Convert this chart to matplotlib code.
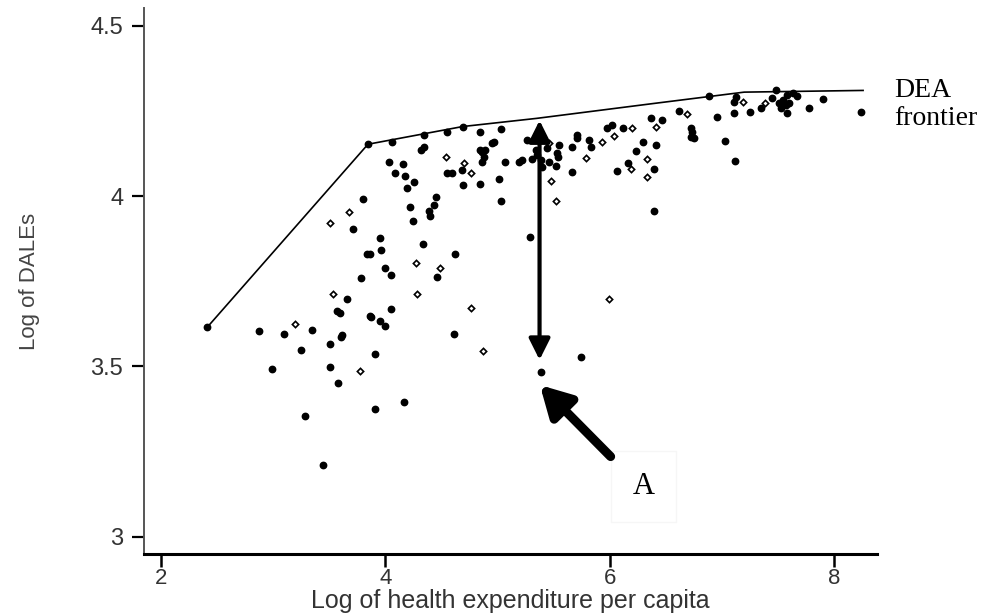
import matplotlib
matplotlib.use("Agg")
import matplotlib.pyplot as plt

# DEA frontier vertices
frontier_x = [2.41, 3.845, 4.69, 5.35, 6.40, 7.20, 8.26]
frontier_y = [3.614, 4.152, 4.204, 4.228, 4.272, 4.305, 4.310]

# countries drawn as filled dots
solid_x = [2.41, 3.845, 4.060, 4.342, 4.551, 4.694,
           4.030, 4.158, 4.089, 4.179, 4.253, 4.194, 4.319, 4.342, 4.551, 4.595,
           4.685, 4.694, 3.801, 3.711, 4.217, 4.247, 4.455, 4.431, 4.387, 4.402,
           3.955, 3.961, 3.836, 3.860, 4.336, 4.619, 4.000, 4.051, 3.783, 4.461,
           3.658, 3.569, 3.593, 4.051, 3.860, 3.872, 3.955, 3.994, 2.875, 3.098,
           3.345, 3.613, 3.604, 3.509, 3.250, 3.905, 4.610, 2.988, 3.509, 3.574,
           3.905, 4.170, 3.286, 3.444,
           4.842, 5.033, 4.848, 4.866, 4.893, 4.878, 4.860, 4.955, 4.973, 5.071,
           5.190, 5.220, 5.259, 5.310, 5.339, 5.354, 5.384, 5.399, 5.444, 5.548,
           5.533, 5.539, 5.458, 5.518, 4.848, 5.012, 5.033, 5.289, 5.667, 5.705,
           5.705, 5.667, 5.815, 5.830, 5.979, 6.024, 6.119, 6.062, 6.164, 6.238,
           6.301, 6.396, 6.417, 6.366, 6.470, 6.396, 6.619, 6.723, 6.738, 6.723,
           6.753, 6.887, 6.961, 7.027, 7.110, 7.125, 7.110, 7.119, 7.253, 7.348,
           7.452, 7.482, 7.512, 7.542, 7.571, 7.601, 7.527, 7.580, 7.631, 7.670,
           7.580, 7.780, 7.899, 8.241, 5.747, 5.384]
solid_y = [3.614, 4.152, 4.160, 4.179, 4.189, 4.204,
           4.101, 4.094, 4.067, 4.059, 4.042, 4.024, 4.135, 4.145, 4.067, 4.067,
           4.076, 4.032, 3.991, 3.902, 3.967, 3.927, 3.998, 3.974, 3.957, 3.941,
           3.876, 3.842, 3.830, 3.830, 3.858, 3.829, 3.788, 3.768, 3.759, 3.762,
           3.697, 3.663, 3.658, 3.668, 3.648, 3.644, 3.634, 3.617, 3.604, 3.594,
           3.607, 3.592, 3.585, 3.565, 3.548, 3.536, 3.594, 3.493, 3.497, 3.452,
           3.374, 3.395, 3.354, 3.211,
           4.189, 4.197, 4.135, 4.128, 4.135, 4.116, 4.101, 4.155, 4.160, 4.101,
           4.101, 4.106, 4.165, 4.108, 4.135, 4.120, 4.106, 4.086, 4.140, 4.150,
           4.125, 4.116, 4.101, 4.088, 4.035, 4.050, 3.986, 3.881, 4.145, 4.179,
           4.169, 4.071, 4.165, 4.143, 4.199, 4.209, 4.199, 4.074, 4.098, 4.132,
           4.160, 4.079, 4.150, 4.228, 4.223, 3.956, 4.250, 4.199, 4.189, 4.174,
           4.169, 4.294, 4.233, 4.162, 4.277, 4.292, 4.243, 4.103, 4.246, 4.258,
           4.287, 4.311, 4.272, 4.282, 4.267, 4.274, 4.258, 4.297, 4.302, 4.294,
           4.243, 4.258, 4.284, 4.248, 3.527, 3.484]

# countries drawn as small open markers
open_x = [4.699, 4.765, 3.673, 3.503, 4.271, 4.491, 3.533, 4.283, 4.765, 3.196,
          4.872, 3.777, 4.545, 5.458, 5.473, 5.518, 6.039, 6.196, 6.188, 6.336,
          6.330, 6.411, 6.688, 7.185, 7.384, 5.786, 5.935, 5.994]
open_y = [4.096, 4.069, 3.954, 3.922, 3.803, 3.788, 3.712, 3.712, 3.670, 3.624,
          3.545, 3.487, 4.115, 4.155, 4.045, 3.985, 4.176, 4.199, 4.078, 4.110,
          4.057, 4.204, 4.241, 4.277, 4.274, 4.111, 4.158, 3.697]

# gap arrow from country A up to the frontier, and pointer to A
gap_x, gap_top, gap_bottom = 5.375, 4.222, 3.519
pointer_tail = (6.009, 3.235)
pointer_tip = (5.378, 3.445)

plt.rcParams['font.family'] = ['Liberation Sans', 'DejaVu Sans']

fig = plt.figure(figsize=(9.96, 6.14), dpi=100)
ax = fig.add_axes([144 / 996, 60 / 614, 733 / 996, 546 / 614])

ax.plot(frontier_x, frontier_y, color='black', lw=1.2, zorder=2)
ax.plot(solid_x, solid_y, 'o', color='black', ms=4.6, zorder=3)
ax.plot(open_x, open_y, 'D', mfc='white', mec='black', mew=1.2, ms=3.2, zorder=3)

ax.annotate('', xy=(gap_x, gap_bottom), xytext=(gap_x, gap_top),
            arrowprops=dict(arrowstyle='<|-|>,head_length=0.8,head_width=0.4',
                            mutation_scale=16, lw=3, color='black',
                            shrinkA=0, shrinkB=0), zorder=4)
ax.annotate('', xy=pointer_tip, xytext=pointer_tail,
            arrowprops=dict(arrowstyle='-|>,head_length=0.9,head_width=0.5',
                            mutation_scale=20, lw=6.5, color='black',
                            shrinkA=0, shrinkB=0), zorder=4)

ax.text(6.30, 3.147, 'A', family='Liberation Serif', fontsize=22, ha='center', va='center',
        bbox=dict(boxstyle='square,pad=0.7', fc='white', ec='#f6f6f6'))
fig.text(894 / 996, 1 - 78 / 614, 'DEA\nfrontier', family='Liberation Serif', fontsize=20,
         ha='left', va='top', linespacing=1.15)

ax.set_xlim(1.848, 8.384)
ax.set_ylim(2.949, 4.552)
ax.set_xticks([2, 4, 6, 8])
ax.set_yticks([3, 3.5, 4, 4.5])
ax.set_yticklabels(['3', '3.5', '4', '4.5'])

for side in ['top', 'right']:
    ax.spines[side].set_visible(False)
ax.spines['left'].set_color('#555555')
ax.spines['left'].set_linewidth(1.4)
ax.spines['bottom'].set_color('black')
ax.spines['bottom'].set_linewidth(2.2)
ax.tick_params(axis='x', length=9, width=1.8, color='black', labelsize=16,
               labelcolor='#333333', pad=1)
ax.tick_params(axis='y', length=9, width=1.6, color='black', labelsize=17,
               labelcolor='#333333', pad=6)

ax.set_xlabel('Log of health expenditure per capita', fontsize=18, color='#333333', labelpad=0)
ax.set_ylabel('Log of DALEs', fontsize=16, color='#444444', labelpad=36)

fig.savefig('out.png', dpi=100)
